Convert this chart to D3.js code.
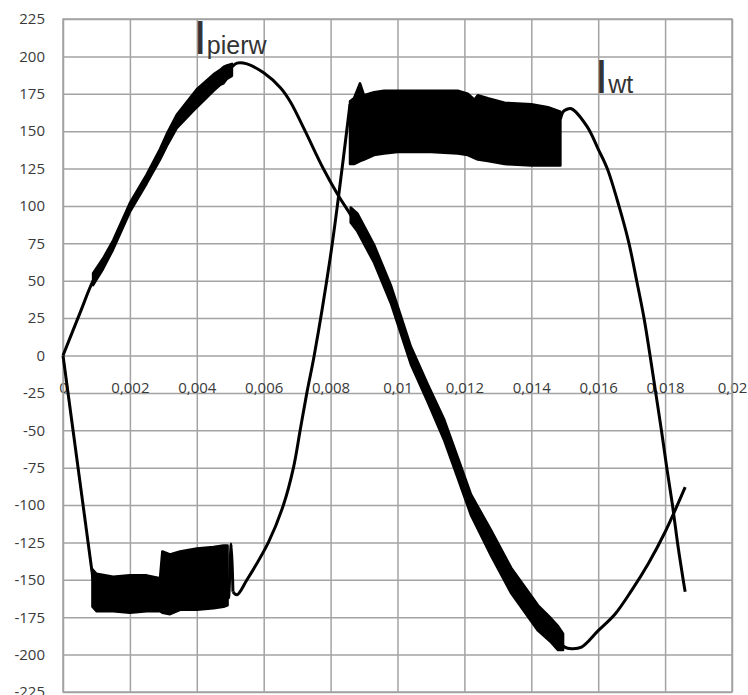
<!DOCTYPE html>
<html>
<head>
<meta charset="utf-8">
<script src="https://cdn.jsdelivr.net/npm/d3@7"></script>
<style>
  body { margin: 0; background: #fff; }
  .tick text { font-family: 'Open Sans', sans-serif; font-size: 15px; fill: #3a3a3a; }
  .grid line { stroke: #a3a3a3; stroke-width: 1.5; }
  .label { font-family: 'Liberation Sans', Arial, sans-serif; fill: #333; }
</style>
</head>
<body>
<svg class="chart" width="748" height="695"></svg>
<script>
// ticks
const xTicks = [0, 0.002, 0.004, 0.006, 0.008, 0.01, 0.012, 0.014, 0.016, 0.018, 0.02]
const yTicks = [-225, -200, -175, -150, -125, -100, -75, -50, -25, 0, 25, 50, 75, 100, 125, 150, 175, 200, 225]

// I pierw: [t, value]
const pierwLine = [
  [0, 0], [0.0005, 28], [0.0009, 50], [0.0013, 66], [0.0017, 84], [0.002, 99],
  [0.0025, 118], [0.0029, 135], [0.0033, 152], [0.0036, 162], [0.004, 172],
  [0.0046, 184], [0.005, 192], [0.0052, 195.5], [0.0055, 195], [0.006, 189], [0.0065, 179],
  [0.0068, 169.5], [0.00724, 150], [0.00778, 125], [0.00823, 107], [0.0086, 94],
  [0.0093, 68], [0.0098, 41], [0.01043, 0], [0.0109, -25],
  [0.01138, -50], [0.0118, -75], [0.0122, -100], [0.01276, -125], [0.01337, -150], [0.01422, -175],
  [0.0148, -190], [0.015, -195], [0.0152, -196], [0.0155, -195], [0.016, -184], [0.0165, -173],
  [0.017, -157], [0.0175, -139], [0.018, -118], [0.0186, -88]
]
// ripple envelopes: [t, low, high]
const pierwBandRise = [
  [0.0009, 47, 55], [0.0012, 58, 65], [0.0015, 71, 77], [0.002, 96, 102], [0.0025, 115, 121],
  [0.0029, 131, 138], [0.0031, 140, 148], [0.0034, 152, 161], [0.004, 166, 178], [0.0045, 177, 188],
  [0.0047, 181, 191], [0.0048, 182, 193], [0.0049, 185, 194], [0.00505, 187, 195]
]
const pierwBandFall = [
  [0.0086, 89, 99], [0.0088, 83, 95], [0.0093, 62, 74], [0.0098, 35, 47], [0.0104, -6, 6],
  [0.0109, -31, -19], [0.0114, -57, -43], [0.0118, -82, -68], [0.0122, -107, -93], [0.0128, -134, -117],
  [0.0134, -159, -142], [0.0142, -184, -167], [0.0146, -192, -176], [0.0148, -197, -181], [0.01495, -197, -186]
]

// I wt, in pieces between the ripple blocks: [t, value]
const wtDrop = [[0, 0], [0.0009, -150]]
const wtSpike = [[0.00492, -150], [0.00495, -162], [0.00503, -126], [0.00508, -158]]
const wtSwing = [
  [0.00508, -158], [0.0052, -160], [0.0055, -150], [0.00614, -125], [0.00659, -100], [0.00689, -75],
  [0.00709, -50], [0.00729, -25], [0.00751, 0], [0.00798, 64], [0.00823, 105], [0.00858, 168]
]
const wtTail = [
  [0.01487, 158], [0.01495, 163], [0.01505, 164.5], [0.0152, 165], [0.01567, 153], [0.016, 138],
  [0.01627, 125], [0.01662, 100], [0.01692, 75], [0.01715, 50], [0.01737, 25], [0.01755, 0],
  [0.01772, -25], [0.01789, -50], [0.01805, -75], [0.01822, -100], [0.01837, -125], [0.01854, -150], [0.0186, -158]
]
const wtBandLow = [
  [0.00088, -168, -143], [0.001, -171, -146], [0.0015, -171, -148], [0.002, -172, -147],
  [0.0025, -171, -147], [0.0029, -171, -149], [0.00297, -172, -131], [0.0032, -173, -133],
  [0.0035, -170, -131], [0.004, -170, -129], [0.0045, -169, -128], [0.0048, -168, -127], [0.00492, -167, -127]
]
const wtBandHigh = [
  [0.00858, 128, 170], [0.0087, 128, 172], [0.00888, 130, 182], [0.009, 131, 174], [0.0093, 134, 176],
  [0.0096, 135, 177], [0.01, 136, 177], [0.011, 136, 177], [0.0118, 135, 177], [0.0121, 134, 175],
  [0.0123, 132, 171], [0.0124, 131, 174], [0.0127, 130, 172], [0.0132, 128, 169], [0.014, 127, 168],
  [0.0145, 127, 166], [0.01487, 127, 163]
]

const svg = d3.select('svg.chart')
const margin = {top: 19, right: 16, bottom: 3, left: 63}
const width = +svg.attr('width') - margin.left - margin.right
const height = +svg.attr('height') - margin.top - margin.bottom

const x = d3.scaleLinear().domain([0, 0.02]).range([0, width])
const y = d3.scaleLinear().domain([-225, 225]).range([height, 0])

const g = svg.append('g')
  .attr('transform', 'translate(' + margin.left + ',' + margin.top + ')')

// vertical grid
g.append('g')
  .attr('class', 'grid')
  .attr('transform', 'translate(0,' + height + ')')
  .call(d3.axisBottom(x).tickValues(xTicks).tickSize(-height).tickFormat(''))
  .call(s => s.select('.domain').remove())

// horizontal grid + y labels
g.append('g')
  .attr('class', 'grid')
  .call(d3.axisLeft(y).tickValues(yTicks).tickSize(-width).tickPadding(18).tickFormat(d => String(d)))
  .call(s => s.select('.domain').remove())

// x labels sit on the zero line
g.append('g')
  .attr('transform', 'translate(0,' + y(0) + ')')
  .call(d3.axisBottom(x).tickValues(xTicks).tickSize(0).tickPadding(27)
    .tickFormat(d => String(d).replace('.', ',')))
  .call(s => s.select('.domain').remove())

g.append('rect')
  .attr('width', width)
  .attr('height', height)
  .attr('fill', 'none')
  .attr('stroke', '#a3a3a3')
  .attr('stroke-width', 1.5)

const line = d3.line()
  .x(d => x(d[0]))
  .y(d => y(d[1]))
  .curve(d3.curveCatmullRom.alpha(0.5))

const band = d3.area()
  .x(d => x(d[0]))
  .y0(d => y(d[1]))
  .y1(d => y(d[2]))

const series = [pierwLine, wtDrop, wtSpike, wtSwing, wtTail]
g.selectAll('.series')
  .data(series)
  .enter().append('path')
  .attr('class', 'series')
  .attr('d', line)
  .attr('fill', 'none')
  .attr('stroke', '#000')
  .attr('stroke-width', 3)
  .attr('stroke-linejoin', 'round')

const bands = [pierwBandRise, pierwBandFall, wtBandLow, wtBandHigh]
g.selectAll('.band')
  .data(bands)
  .enter().append('path')
  .attr('class', 'band')
  .attr('d', band)
  .attr('fill', '#000')
  .attr('stroke', '#000')
  .attr('stroke-width', 2.5)
  .attr('stroke-linejoin', 'round')

// series names
const labels = [
  {sub: 'pierw', t: 0.0039, v: 201.5},
  {sub: 'wt', t: 0.0159, v: 175.5}
]
labels.forEach(l => {
  const txt = g.append('text')
    .attr('class', 'label')
    .attr('x', x(l.t))
    .attr('y', y(l.v))
  txt.append('tspan').attr('font-size', 48).text('I')
  txt.append('tspan').attr('font-size', 25).text(l.sub)
})
</script>
</body>
</html>
